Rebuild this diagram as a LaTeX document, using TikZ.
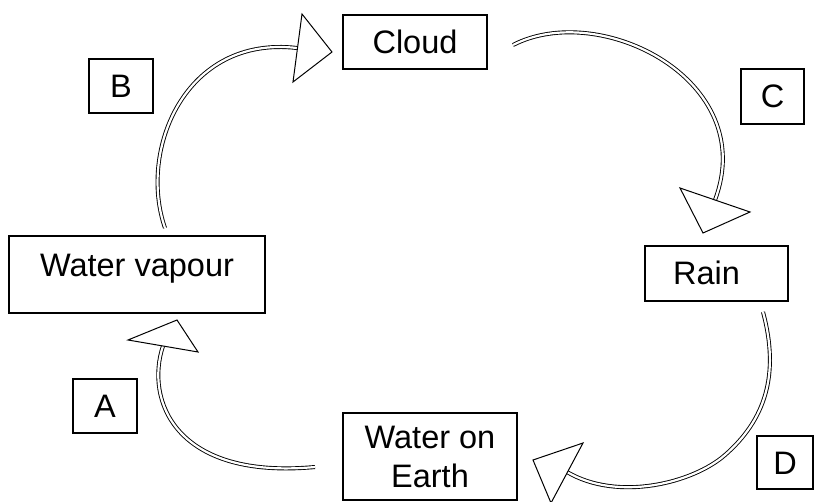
\documentclass[tikz,border=0pt]{standalone}
\usepackage{fontspec}
\setmainfont{Liberation Sans}
\usetikzlibrary{calc}

\begin{document}
\begin{tikzpicture}[
  x=1pt, y=-1pt,
  box/.style={rectangle, draw, line width=2pt, inner sep=0pt, align=center, font=\fontsize{32.5}{39}\selectfont},
  oneline/.style={text height=23pt, text depth=0pt},
  flow/.style={double, double distance=2.2pt, line width=0.9pt},
  head/.style={draw, fill=white, line width=1pt, line join=miter}
]
\useasboundingbox (0,0) rectangle (814,502);

% Stages of the cycle
\node[box, oneline, minimum width=144pt, minimum height=54pt] (cloud) at (415,42) {Cloud};
\node[box, oneline, minimum width=143pt, minimum height=55pt] (rain) at (716.5,273.5) {Rain\hspace*{20pt}};
\node[box, minimum width=174pt, minimum height=87pt] (earth) at (430,456.5) {Water on\\Earth};
\node[box, oneline, text depth=19pt, minimum width=256pt, minimum height=77pt] (vapour) at (137,274.5) {Water vapour};

% Letter boxes
\node[box, oneline, minimum width=64pt, minimum height=54pt] (boxB) at (121,86) {B};
\node[box, oneline, minimum width=63pt, minimum height=55pt] (boxC) at (772.5,96.5) {C};
\node[box, oneline, minimum width=64pt, minimum height=54pt] (boxA) at (105,406) {A};
\node[box, oneline, minimum width=56pt, minimum height=53pt] (boxD) at (785,462.5) {D};

% Arrow B: vapour -> cloud
\coordinate (b0) at (165,228);
\coordinate (b1) at (297,48);
\draw[flow] (b0) .. controls (138,150) and (185,35) .. (b1);
\filldraw[head] (302,14) -- (332,52) -- (293,82) -- cycle;

% Arrow C: cloud -> rain
\coordinate (c0) at (513,45);
\coordinate (c1) at (715,200);
\draw[flow] (c0) .. controls (600,0) and (760,80) .. (c1);
\filldraw[head] (680,188) -- (750,212) -- (703,233) -- cycle;

% Arrow D: rain -> water on earth
\coordinate (d0) at (763,312);
\coordinate (dm) at (725,455);
\coordinate (d1) at (567,472);
\draw[flow] (d0) .. controls (780,375) and (765,420) .. (dm)
  .. controls (693,483) and (618,502) .. (d1);
\filldraw[head] (583,443) -- (533,460) -- (551,503) -- cycle;

% Arrow A: water on earth -> vapour
\coordinate (a0) at (315,467);
\coordinate (a1) at (163,346);
\draw[flow] (a0) .. controls (175,480) and (145,400) .. (a1);
\filldraw[head] (128,340) -- (177,320) -- (198,352) -- cycle;

\end{tikzpicture}
\end{document}
